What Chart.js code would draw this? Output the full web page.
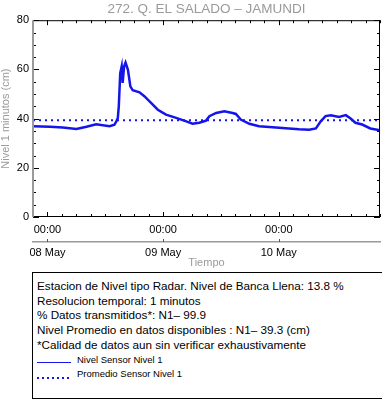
<!DOCTYPE html>
<html>
<head>
<meta charset="utf-8">
<script src="https://cdn.jsdelivr.net/npm/chart.js@4"></script>
<style>
  body { margin: 0; background: #fff; font-family: "Liberation Sans", Arial, sans-serif; }
  #wrap { position: relative; width: 382px; height: 404px; }
  #info {
    position: absolute; left: 32px; top: 272px; width: 346px; height: 119px;
    border: 1px solid #000; padding: 6px 0 0 4px; box-sizing: content-box;
    font-size: 11.7px; line-height: 14.7px; color: #000;
  }
  #info .ley { font-size: 9.5px; line-height: 14.7px; display: flex; align-items: center; }
  #info .muestra { width: 34px; height: 0; margin-right: 6px; position: relative; top: 3px; }
  #info .punteada { height: 2px; border: none; top: 3px;
    background: repeating-linear-gradient(to right, #1414eb 0 2px, transparent 2px 5px); }
</style>
</head>
<body>
<div id="wrap">
  <canvas id="nivelChart" width="382" height="272"></canvas>
  <div id="info">
    <div>Estacion de Nivel tipo Radar. Nivel de Banca Llena: 13.8 %</div>
    <div>Resolucion temporal: 1 minutos</div>
    <div>% Datos transmitidos*: N1&#8211; 99.9</div>
    <div>Nivel Promedio en datos disponibles : N1&#8211; 39.3 (cm)</div>
    <div>*Calidad de datos aun sin verificar exhaustivamente</div>
    <div class="ley"><span class="muestra" style="border-top: 1.5px solid #1414eb;"></span>Nivel Sensor Nivel 1</div>
    <div class="ley"><span class="muestra punteada"></span>Promedio Sensor Nivel 1</div>
  </div>
</div>
<script>
// horas desde 08 May 00:00
const horas = [-3, 0.5, 3.2, 6.0, 8.1, 10.1, 12.9, 13.9, 14.3, 14.6,
    14.8, 15.1, 15.4, 15.6, 15.9, 16.2, 16.7, 17.2, 17.7, 19.1,
    20.1, 21.5, 22.9, 24.6, 26.7, 28.8, 30.1, 31.5, 32.9, 33.6,
    35.0, 36.7, 38.4, 39.1, 40.1, 41.9, 43.9, 46.7, 50.1, 52.2,
    54.3, 55.7, 56.7, 57.7, 58.8, 60.5, 61.9, 62.9, 63.9, 65.3,
    67.0, 69];
const nivel = [36.9, 36.7, 36.4, 35.8, 36.7, 37.7, 36.9, 37.5, 38.9, 40.3,
    45, 58.5, 61.2, 54.5, 61.2, 62.8, 59.8, 53.1, 51.5, 50.7,
    49.1, 46.4, 43.6, 41.6, 40.3, 38.9, 37.9, 38.3, 39.2, 41,
    42.3, 43, 42.3, 41.9, 39.6, 37.9, 36.9, 36.5, 36, 35.7,
    35.5, 36, 38.9, 41, 41.4, 40.7, 41.4, 40, 38.3, 37.6,
    36, 35.3];
const promedio = 39.3;
const rangoHoras = [-3, 69];
const diasHoras = [0, 24, 48];
const etiquetasHora = ['00:00', '00:00', '00:00'];
const etiquetasDia = ['08 May', '09 May', '10 May'];
const yTicks = [0, 20, 40, 60, 80];

const azul = '#1414eb';
const gris = '#9a9a9a';

// marco negro y marcas hacia adentro, como en el grafico original
const marcoEjes = {
    id: 'marcoEjes',
    afterDraw(chart) {
        const { ctx, chartArea: a, scales } = chart;
        const x = scales.x, y = scales.y, x2 = scales.x2;
        ctx.save();
        ctx.lineWidth = 1;
        ctx.strokeStyle = '#000';
        ctx.strokeRect(a.left + 0.5, a.top + 0.5, a.right - a.left - 1, a.bottom - a.top - 1);
        ctx.beginPath();
        for (let v = 0; v <= 80; v += 5) {
            const py = Math.round(y.getPixelForValue(v)) + 0.5;
            const len = v % 20 === 0 ? 6 : 3;
            ctx.moveTo(a.left, py); ctx.lineTo(a.left + len, py);
            ctx.moveTo(a.right, py); ctx.lineTo(a.right - len, py);
        }
        for (let h = rangoHoras[0]; h <= rangoHoras[1]; h += 3) {
            const px = Math.round(x.getPixelForValue(h)) + 0.5;
            const len = h % 24 === 0 ? 5 : 3;
            ctx.moveTo(px, a.bottom); ctx.lineTo(px, a.bottom - len);
            ctx.moveTo(px, a.top); ctx.lineTo(px, a.top + len);
        }
        ctx.stroke();
        // eje izquierdo gris
        ctx.strokeStyle = gris;
        ctx.lineWidth = 2;
        ctx.beginPath();
        ctx.moveTo(a.left, a.top); ctx.lineTo(a.left, a.bottom);
        ctx.stroke();
        // marcas pequenas del eje de fechas
        ctx.lineWidth = 1;
        ctx.strokeStyle = '#555';
        ctx.beginPath();
        diasHoras.forEach(h => {
            const px = Math.round(x2.getPixelForValue(h)) + 0.5;
            ctx.moveTo(px, x2.top); ctx.lineTo(px, x2.top - 3);
        });
        ctx.stroke();
        ctx.restore();
    }
};

const ctx = document.getElementById('nivelChart').getContext('2d');
new Chart(ctx, {
    type: 'line',
    data: {
        datasets: [{
            label: 'Nivel Sensor Nivel 1',
            data: horas.map((h, i) => ({ x: h, y: nivel[i] })),
            borderColor: azul,
            borderWidth: 2.5,
            pointRadius: 0,
            tension: 0,
        }, {
            label: 'Promedio Sensor Nivel 1',
            data: rangoHoras.map(h => ({ x: h, y: promedio })),
            borderColor: azul,
            borderWidth: 2,
            borderDash: [2, 4],
            pointRadius: 0,
        }]
    },
    options: {
        responsive: false,
        animation: false,
        layout: { padding: { left: 0, right: 2, top: 0, bottom: 0 } },
        plugins: {
            legend: { display: false },
            tooltip: { enabled: false },
            title: {
                display: true,
                fullSize: false,
                text: '272. Q. EL SALADO \u2013 JAMUNDI',
                color: gris,
                font: { family: 'Liberation Sans', size: 13.5, weight: 'normal' },
                padding: { top: 1, bottom: 3 },
            },
        },
        scales: {
            x: {
                type: 'linear',
                position: 'bottom',
                min: rangoHoras[0],
                max: rangoHoras[1],
                afterBuildTicks: s => { s.ticks = diasHoras.map(v => ({ value: v })); },
                afterFit: s => { s.height = 25; },
                ticks: {
                    autoSkip: false,
                    maxRotation: 0,
                    padding: 6,
                    color: '#000',
                    font: { family: 'Liberation Sans', size: 11 },
                    callback: (v) => etiquetasHora[diasHoras.indexOf(v)],
                },
                grid: { display: false, drawTicks: false },
                border: { display: false },
            },
            x2: {
                type: 'linear',
                position: 'bottom',
                min: rangoHoras[0],
                max: rangoHoras[1],
                afterBuildTicks: s => { s.ticks = diasHoras.map(v => ({ value: v })); },
                afterFit: s => { s.height = 30; },
                ticks: {
                    autoSkip: false,
                    maxRotation: 0,
                    padding: 4,
                    color: '#000',
                    font: { family: 'Liberation Sans', size: 11 },
                    callback: (v) => etiquetasDia[diasHoras.indexOf(v)],
                },
                grid: { display: false, drawTicks: false },
                border: { display: true, color: gris, width: 1.5 },
                title: {
                    display: true,
                    text: 'Tiempo',
                    color: gris,
                    font: { family: 'Liberation Sans', size: 11 },
                    padding: { top: 0, bottom: 2 },
                },
            },
            y: {
                min: 0,
                max: 80,
                afterBuildTicks: s => { s.ticks = yTicks.map(v => ({ value: v })); },
                afterFit: s => { s.width = 33; },
                ticks: {
                    padding: 4,
                    color: '#000',
                    font: { family: 'Liberation Sans', size: 11 },
                },
                grid: { display: false, drawTicks: false },
                border: { display: false },
                title: {
                    display: true,
                    text: 'Nivel 1 minutos (cm)',
                    color: gris,
                    font: { family: 'Liberation Sans', size: 11, lineHeight: 1 },
                    padding: { top: 0, bottom: 0 },
                },
            },
        },
    },
    plugins: [marcoEjes],
});
</script>
</body>
</html>
